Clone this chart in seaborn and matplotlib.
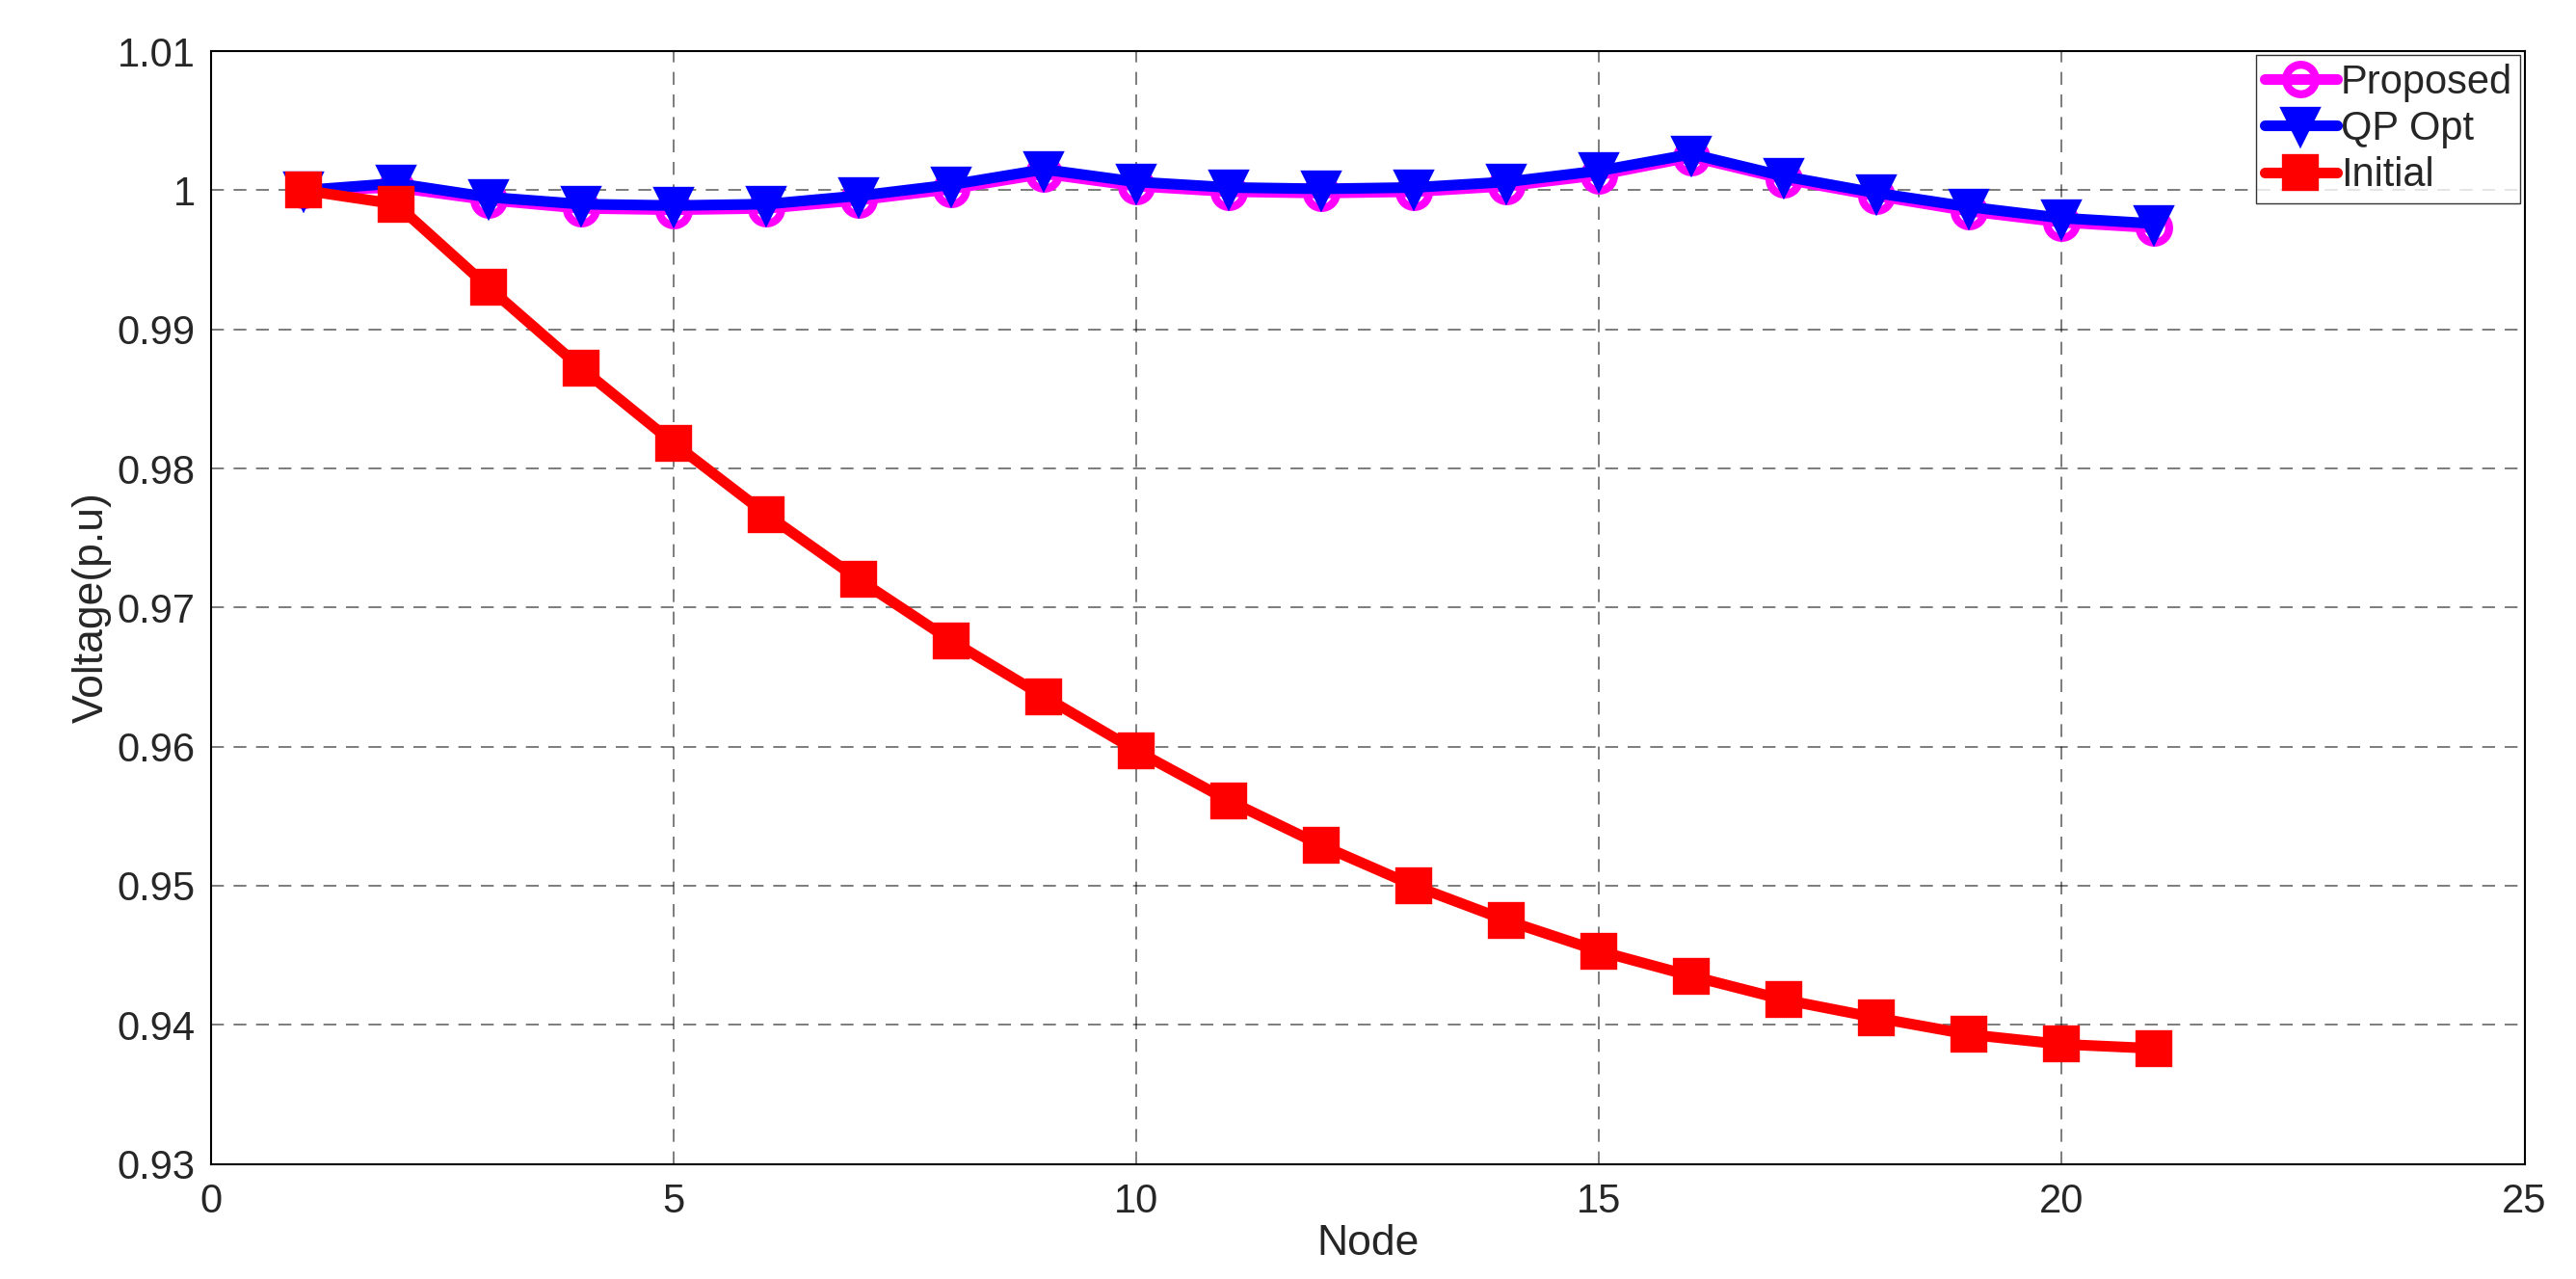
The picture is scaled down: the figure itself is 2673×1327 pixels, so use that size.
import matplotlib
matplotlib.use("Agg")
import matplotlib.pyplot as plt
import seaborn as sns
import pandas as pd

# values
nodes = list(range(1, 22))
proposed = [1.0000, 1.0002, 0.9993, 0.9987, 0.9986, 0.9987, 0.9993, 1.0001, 1.0012, 1.0003,
            0.9999, 0.9998, 0.9999, 1.0003, 1.0011, 1.0024, 1.0008, 0.9996, 0.9985, 0.9977, 0.9973]
qp_opt = [1.0000, 1.0005, 0.9995, 0.9990, 0.9989, 0.9990, 0.9996, 1.0004, 1.0015, 1.0006,
          1.0002, 1.0001, 1.0002, 1.0006, 1.0014, 1.0026, 1.0010, 0.9998, 0.9988, 0.9980, 0.9976]
initial = [1.0000, 0.9990, 0.9930, 0.9872, 0.9818, 0.9767, 0.9720, 0.9676, 0.9636, 0.9597,
           0.9561, 0.9529, 0.9500, 0.9475, 0.9453, 0.9435, 0.9418, 0.9405, 0.9393, 0.9386, 0.9383]

sns.set_theme(style="white")
plt.rcParams['font.family'] = ['Liberation Sans', 'DejaVu Sans']

fig, ax = plt.subplots(figsize=(26.73, 13.27), dpi=100)

series = [("Proposed", proposed, "#FF00FF", "o"),
          ("QP Opt", qp_opt, "#0000FF", "v"),
          ("Initial", initial, "#FF0000", "s")]
for name, vals, col, mk in series:
    df = pd.DataFrame({"Node": nodes, "V": vals})
    face = "none" if mk == "o" else col
    sns.lineplot(data=df, x="Node", y="V", ax=ax, color=col, linewidth=8,
                 marker=mk, markersize=22, markerfacecolor=face,
                 markeredgecolor=col, markeredgewidth=6, label=name)

ax.set_xlim(0, 25)
ax.set_ylim(0.93, 1.01)
ax.set_xticks(range(0, 26, 5))
ax.set_yticks([0.93, 0.94, 0.95, 0.96, 0.97, 0.98, 0.99, 1.0, 1.01])
ax.set_yticklabels(["0.93", "0.94", "0.95", "0.96", "0.97", "0.98", "0.99", "1", "1.01"])
ax.grid(True, color="black", linestyle=(0, (8, 6)), linewidth=1.2, alpha=0.6)
ax.tick_params(labelsize=30, direction="in", length=8)
ax.tick_params(axis="x", pad=14)
ax.tick_params(axis="y", pad=12)
for s in ax.spines.values():
    s.set_color("black")
    s.set_linewidth(1.5)
ax.set_xlabel("Node", fontsize=32, labelpad=2)
ax.set_ylabel("Voltage(p.u)", fontsize=32)

leg = ax.legend(loc="upper right", fontsize=30, frameon=True, fancybox=False,
                borderpad=0.2, handlelength=1.8, handletextpad=0.1, labelspacing=0.2,
                borderaxespad=0.1)
leg.get_frame().set_edgecolor("black")

plt.subplots_adjust(left=0.082, right=0.98, top=0.96, bottom=0.09)
fig.savefig("out.png", dpi=100)
